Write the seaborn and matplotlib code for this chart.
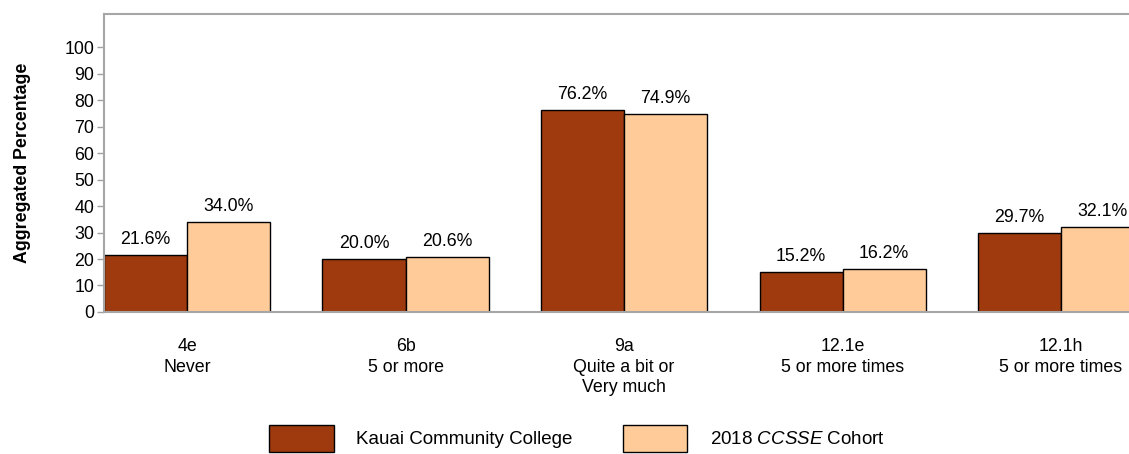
import pandas as pd
import numpy as np
import matplotlib.pyplot as plt
import seaborn as sns
from matplotlib.patches import Patch

# Data
items = ['4e\nNever', '6b\n5 or more', '9a\nQuite a bit or\nVery much',
         '12.1e\n5 or more times', '12.1h\n5 or more times']
kauai = [21.6, 20.0, 76.2, 15.2, 29.7]
cohort = [34.0, 20.6, 74.9, 16.2, 32.1]
series = ['Kauai Community College', '2018 $\\it{CCSSE}$ Cohort']
colors = ['#9E3A0E', '#FFCC99']

df = pd.DataFrame({
    'Item': items * 2,
    'Value': kauai + cohort,
    'Group': [series[0]] * len(items) + [series[1]] * len(items),
})

sns.set_style('white')
plt.rcParams['font.family'] = ['Liberation Sans', 'DejaVu Sans']
plt.rcParams['mathtext.fontset'] = 'custom'
plt.rcParams['mathtext.rm'] = 'Liberation Sans'
plt.rcParams['mathtext.it'] = 'Liberation Sans:italic'
plt.rcParams['text.color'] = 'black'
plt.rcParams['axes.labelcolor'] = 'black'
plt.rcParams['xtick.labelcolor'] = 'black'
plt.rcParams['ytick.labelcolor'] = 'black'

fs = 12.8

fig = plt.figure(figsize=(11.29, 4.54), dpi=100)
ax = fig.add_axes([0.0921, 0.3128, 0.9677, 0.6564])

sns.barplot(data=df, x='Item', y='Value', hue='Group', palette=colors,
            width=0.76, gap=0, edgecolor='black', linewidth=1,
            saturation=1, legend=False, ax=ax)

for cont in ax.containers:
    ax.bar_label(cont, fmt='%.1f%%', padding=5, fontsize=fs, color='black')

ax.set_xlim(-0.38, 4.62)
ax.set_ylim(0, 112.5)
ax.set_yticks(range(0, 101, 10))
ax.tick_params(axis='y', labelsize=fs, length=5, color='#A0A0A0', width=1, pad=2,
               left=True, labelcolor='black')
ax.tick_params(axis='x', labelsize=fs, length=0, pad=19, labelcolor='black')
for lbl in ax.get_xticklabels():
    lbl.set_linespacing(1.25)
ax.set_xlabel('')
ax.set_ylabel('Aggregated Percentage', fontsize=fs, fontweight='bold', labelpad=24,
              color='black')

for s in ['left', 'top', 'bottom']:
    ax.spines[s].set_color('#A6A6A6')
    ax.spines[s].set_linewidth(1.5)
ax.spines['right'].set_visible(False)

handles = [Patch(facecolor=c, edgecolor='black', linewidth=1) for c in colors]
fig.legend(handles, series, loc='center', bbox_to_anchor=(0.511, 0.035), ncol=2,
           frameon=False, fontsize=13.5, handlelength=3.45, handleheight=1.85,
           handletextpad=1.2, columnspacing=2.65, labelcolor='black')

plt.savefig('out.png', dpi=100)
